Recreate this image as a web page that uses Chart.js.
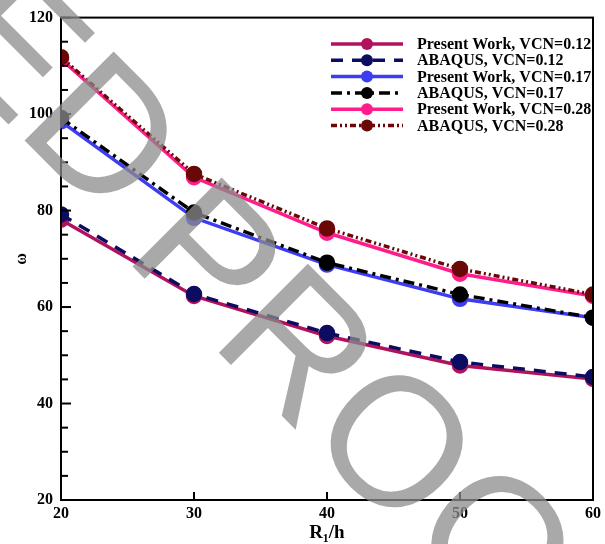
<!DOCTYPE html>
<html>
<head>
<meta charset="utf-8">
<script src="https://cdn.jsdelivr.net/npm/chart.js@4.4.0/dist/chart.umd.min.js"></script>
<style>
html,body{margin:0;padding:0;background:#fff;}
#wrap{width:605px;height:544px;position:relative;}
</style>
</head>
<body>
<div id="wrap"><canvas id="c" width="605" height="544"></canvas></div>
<script>
const xValues = [20, 30, 40, 50, 60];
const present012 = [78.1, 62.3, 54.0, 47.9, 45.1];
const abaqus012  = [79.2, 62.7, 54.6, 48.6, 45.5];
const present017 = [98.5, 78.5, 68.8, 61.7, 57.8];
const abaqus017  = [99.2, 79.6, 69.2, 62.6, 57.8];
const present028 = [111.4, 86.9, 75.4, 66.9, 62.3];
const abaqus028  = [111.8, 87.6, 76.3, 67.9, 62.6];
const seriesLabels = ['Present Work, VCN=0.12','ABAQUS, VCN=0.12','Present Work, VCN=0.17','ABAQUS, VCN=0.17','Present Work, VCN=0.28','ABAQUS, VCN=0.28'];
const xTicks = [20, 30, 40, 50, 60];
const yTicks = [20, 40, 60, 80, 100, 120];
const watermarkWords = ['ED', 'PROOF'];

const FONT = '"Liberation Serif", "Times New Roman", serif';
function pts(arr){ return xValues.map((x,i)=>({x:x, y:arr[i]})); }

const styles = [
  {color:'#B0135C', dash:[], order:2},
  {color:'#0C0C60', dash:[12,9], order:1},
  {color:'#3C3CF2', dash:[], order:2},
  {color:'#000000', dash:[11,5,3,5], order:1},
  {color:'#FF1D8C', dash:[], order:2},
  {color:'#6A0808', dash:[6,3,2,3,2,3], order:1}
];
const seriesData = [present012, abaqus012, present017, abaqus017, present028, abaqus028];

const datasets = seriesData.map((d,i)=>({
  label: seriesLabels[i],
  data: pts(d),
  borderColor: styles[i].color,
  backgroundColor: styles[i].color,
  pointBackgroundColor: styles[i].color,
  pointBorderColor: styles[i].color,
  borderWidth: 3.5,
  borderDash: styles[i].dash,
  pointRadius: 6.5,
  pointStyle: 'circle',
  tension: 0,
  order: styles[i].order
}));

const framePlugin = {
  id:'frame',
  afterDatasetsDraw(chart){
    const {ctx, chartArea:a, scales} = chart;
    ctx.save();
    ctx.strokeStyle = '#000';
    ctx.lineWidth = 2;
    ctx.strokeRect(a.left, a.top, a.right - a.left, a.bottom - a.top);
    const ys = scales.y;
    for (let v = 20; v <= 120; v += 5) {
      const p = ys.getPixelForValue(v);
      const len = (v % 20 === 0) ? 10 : 7;
      ctx.beginPath(); ctx.moveTo(a.left, p); ctx.lineTo(a.left + len, p); ctx.stroke();
    }
    const xs = scales.x;
    xTicks.forEach(v => {
      const p = xs.getPixelForValue(v);
      ctx.beginPath(); ctx.moveTo(p, a.bottom); ctx.lineTo(p, a.bottom - 8); ctx.stroke();
    });
    ctx.restore();
  }
};

const legendPlugin = {
  id:'customLegend',
  afterDraw(chart){
    const ctx = chart.ctx;
    ctx.save();
    const x0 = 331, x1 = 403, xm = 367, tx = 417;
    const y0 = 44, dy = 16.3;
    ctx.font = 'bold 16px ' + FONT;
    ctx.textBaseline = 'middle';
    ctx.textAlign = 'left';
    chart.data.datasets.forEach((ds,i)=>{
      const y = y0 + i*dy;
      ctx.strokeStyle = ds.borderColor;
      ctx.lineWidth = 3.5;
      ctx.setLineDash(ds.borderDash);
      ctx.beginPath(); ctx.moveTo(x0, y); ctx.lineTo(x1, y); ctx.stroke();
      ctx.setLineDash([]);
      ctx.fillStyle = ds.borderColor;
      ctx.beginPath(); ctx.arc(xm, y, 6, 0, Math.PI*2); ctx.fill();
      ctx.fillStyle = '#000';
      ctx.fillText(ds.label, tx, y + 1);
    });
    ctx.restore();
  }
};

const watermarkPlugin = {
  id:'watermark',
  afterDraw(chart){
    const ctx = chart.ctx;
    const font = '183px "Liberation Sans", Arial, sans-serif';
    const fill = 'rgba(140,140,140,0.75)';
    const anchors = [{x:14, y:130}, {x:122, y:256}];
    ctx.save();
    ctx.font = font;
    ctx.fillStyle = fill;
    ctx.textBaseline = 'alphabetic';
    const w0 = watermarkWords[0];
    ctx.save();
    ctx.translate(anchors[0].x, anchors[0].y);
    ctx.rotate(Math.PI/4);
    ctx.textAlign = 'left';
    ctx.fillText(w0.slice(-1), 0, 0);
    ctx.textAlign = 'right';
    ctx.fillText(w0.slice(0, -1), 0, 0);
    ctx.restore();
    ctx.save();
    ctx.translate(anchors[1].x, anchors[1].y);
    ctx.rotate(Math.PI/4);
    ctx.textAlign = 'left';
    ctx.fillText(watermarkWords[1], 0, 0);
    ctx.restore();
    ctx.restore();
  }
};

new Chart(document.getElementById('c'), {
  type: 'line',
  data: { datasets },
  options: {
    responsive: false,
    animation: false,
    devicePixelRatio: 1,
    layout: { padding: { top: 15, right: 10, left: 0, bottom: 0 } },
    plugins: { legend: { display: false }, tooltip: { enabled: false } },
    scales: {
      x: {
        type: 'linear', min: 20, max: 60,
        afterFit: s => { s.height = 44; },
        afterBuildTicks: s => { s.ticks = xTicks.map(v => ({value: v})); },
        grid: { display: false, drawTicks: false },
        border: { display: true, color: '#000', width: 2 },
        ticks: { color: '#000', font: { family: FONT, size: 16, weight: 'bold' }, padding: 4, maxRotation: 0 },
        title: { display: true, text: 'R\u2081/h', color: '#000', font: { family: FONT, size: 19, weight: 'bold' }, padding: { top: 0, bottom: 0 } }
      },
      y: {
        type: 'linear', min: 20, max: 120,
        afterFit: s => { s.width = 61; },
        afterBuildTicks: s => { s.ticks = yTicks.map(v => ({value: v})); },
        grid: { display: false, drawTicks: false },
        border: { display: true, color: '#000', width: 2 },
        ticks: { color: '#000', font: { family: FONT, size: 16, weight: 'bold' }, padding: 8 },
        title: { display: true, text: '\u03C9', color: '#000', font: { family: FONT, size: 16, weight: 'bold' }, padding: { top: 12, bottom: 0 } }
      }
    }
  },
  plugins: [framePlugin, legendPlugin, watermarkPlugin]
});
</script>
</body>
</html>
